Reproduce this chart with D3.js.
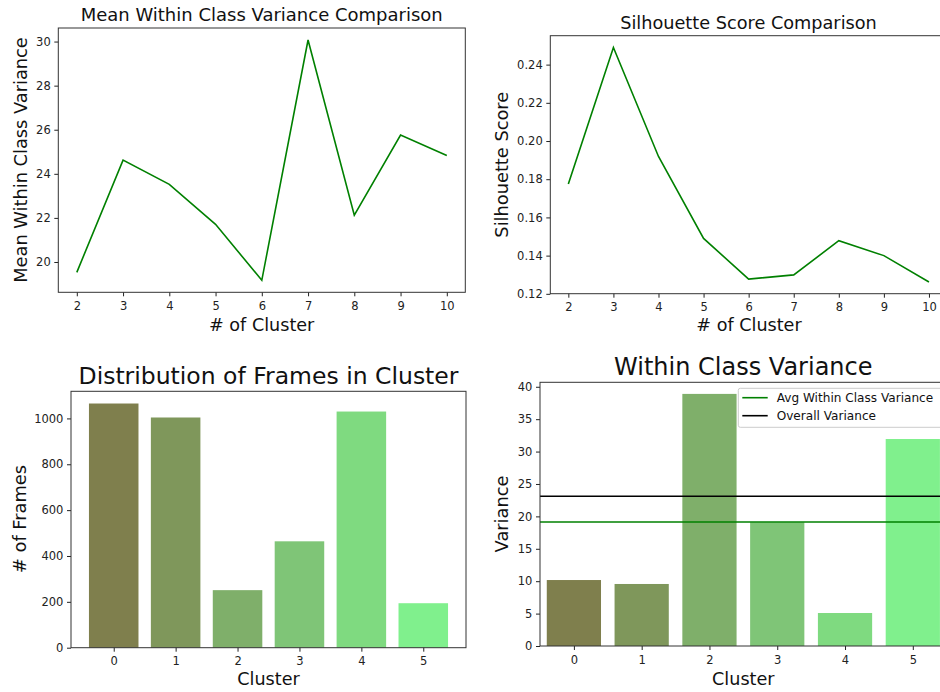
<!DOCTYPE html>
<html>
<head>
<meta charset="utf-8">
<script src="https://cdn.jsdelivr.net/npm/d3@7"></script>
<style>
  html, body { margin: 0; padding: 0; background: #fff; }
  svg { display: block; font-family: "DejaVu Sans", sans-serif; }
</style>
</head>
<body>
<svg id="chart" width="940" height="692"></svg>
<script>
// ---------- data ----------
const clusterCounts = [2, 3, 4, 5, 6, 7, 8, 9, 10];
const meanWithinVariance = [19.53, 24.62, 23.52, 21.71, 19.17, 30.07, 22.12, 25.76, 24.83];
const silhouetteScores = [0.1775, 0.2490, 0.1919, 0.1490, 0.1277, 0.1299, 0.1478, 0.1400, 0.1262];

const clusters = [0, 1, 2, 3, 4, 5];
const framesPerCluster = [1065, 1004, 251, 464, 1030, 194];
const variancePerCluster = [10.18, 9.57, 38.9, 19.09, 5.09, 31.94];
const overallVariance = 23.1;
const barColors = ["#7f7f4d", "#7f975b", "#7faf6a", "#7fc577", "#7fda80", "#80f08d"];

const tickP1Y = [20, 22, 24, 26, 28, 30];
const tickP2Y = [0.12, 0.14, 0.16, 0.18, 0.20, 0.22, 0.24];
const tickP3Y = [0, 200, 400, 600, 800, 1000];
const tickP4Y = [0, 5, 10, 15, 20, 25, 30, 35, 40];

const svg = d3.select("#chart");
svg.append("rect").attr("width", 940).attr("height", 692).attr("fill", "#fff");

const TICK_FONT = 11.5;

function pad(ext, f = 0.05) {
  const d = ext[1] - ext[0];
  return [ext[0] - d * f, ext[1] + d * f];
}

function drawAxes(g, x, y, box, xTicks, yTicks, yFmt) {
  const ax = g.append("g").attr("transform", `translate(0,${box.b})`)
    .call(d3.axisBottom(x).tickValues(xTicks).tickSize(4).tickPadding(5.5).tickFormat(d3.format("d")));
  const ay = g.append("g").attr("transform", `translate(${box.l},0)`)
    .call(d3.axisLeft(y).tickValues(yTicks).tickSize(4).tickPadding(3.6).tickFormat(yFmt));
  [ax, ay].forEach(a => {
    a.select(".domain").remove();
    a.selectAll("text").attr("font-size", TICK_FONT).attr("fill", "#222").attr("font-family", "DejaVu Sans, sans-serif");
    a.selectAll("line").attr("stroke", "#222").attr("stroke-width", 1);
  });
  g.append("rect").attr("x", box.l).attr("y", box.t)
    .attr("width", box.r - box.l).attr("height", box.b - box.t)
    .attr("fill", "none").attr("stroke", "#333").attr("stroke-width", 1);
}

function texts(g, o) {
  g.append("text").attr("x", o.tx).attr("y", o.ty).attr("text-anchor", "middle")
    .attr("font-size", o.tsize).attr("fill", "#111").text(o.title);
  g.append("text").attr("x", o.xx).attr("y", o.xy).attr("text-anchor", "middle")
    .attr("font-size", 17.6).attr("fill", "#111").text(o.xlabel);
  g.append("text").attr("transform", `translate(${o.yx},${o.yy}) rotate(-90)`)
    .attr("text-anchor", "middle").attr("font-size", 17.8).attr("fill", "#111").text(o.ylabel);
}

// ---------- Panel 1 ----------
{
  const box = { l: 58.3, r: 465.3, t: 28, b: 292.3 };
  const g = svg.append("g");
  const x = d3.scaleLinear().domain(pad(d3.extent(clusterCounts))).range([box.l, box.r]);
  const y = d3.scaleLinear().domain(pad(d3.extent(meanWithinVariance))).range([box.b, box.t]);
  const line = d3.line().x((d, i) => x(clusterCounts[i])).y(d => y(d));
  g.append("path").datum(meanWithinVariance).attr("d", line)
    .attr("fill", "none").attr("stroke", "#008000").attr("stroke-width", 1.6);
  drawAxes(g, x, y, box, clusterCounts, tickP1Y, d3.format("d"));
  texts(g, { title: "Mean Within Class Variance Comparison", tx: 261.7, ty: 20.5, tsize: 18,
    xlabel: "# of Cluster", xx: 261.7, xy: 331, ylabel: "Mean Within Class Variance", yx: 26.5, yy: 160 });
}

// ---------- Panel 2 ----------
{
  const box = { l: 550.3, r: 947, t: 35.7, b: 293.7 };
  const g = svg.append("g");
  const x = d3.scaleLinear().domain(pad(d3.extent(clusterCounts))).range([box.l, box.r]);
  const y = d3.scaleLinear().domain(pad(d3.extent(silhouetteScores))).range([box.b, box.t]);
  const line = d3.line().x((d, i) => x(clusterCounts[i])).y(d => y(d));
  g.append("path").datum(silhouetteScores).attr("d", line)
    .attr("fill", "none").attr("stroke", "#008000").attr("stroke-width", 1.6);
  drawAxes(g, x, y, box, clusterCounts, tickP2Y, d3.format(".2f"));
  texts(g, { title: "Silhouette Score Comparison", tx: 748.5, ty: 28.5, tsize: 17.7,
    xlabel: "# of Cluster", xx: 749, xy: 331, ylabel: "Silhouette Score", yx: 508, yy: 164.7 });
}

// ---------- Panel 3 ----------
{
  const box = { l: 71, r: 466, t: 391.3, b: 647.7 };
  const g = svg.append("g");
  const x = d3.scaleLinear().domain(pad([-0.4, 5.4])).range([box.l, box.r]);
  const y = d3.scaleLinear().domain([0, d3.max(framesPerCluster) * 1.05]).range([box.b, box.t]);
  g.selectAll("rect.bar").data(framesPerCluster).join("rect").attr("class", "bar")
    .attr("x", (d, i) => x(clusters[i] - 0.4))
    .attr("width", (d, i) => x(clusters[i] + 0.4) - x(clusters[i] - 0.4))
    .attr("y", d => y(d)).attr("height", d => y(0) - y(d))
    .attr("fill", (d, i) => barColors[i]);
  drawAxes(g, x, y, box, clusters, tickP3Y, d3.format("d"));
  texts(g, { title: "Distribution of Frames in Cluster", tx: 268.5, ty: 384, tsize: 23.5,
    xlabel: "Cluster", xx: 268.5, xy: 685, ylabel: "# of Frames", yx: 25.5, yy: 519 });
}

// ---------- Panel 4 ----------
{
  const box = { l: 540, r: 946.7, t: 382.3, b: 646 };
  const g = svg.append("g");
  const x = d3.scaleLinear().domain([-0.5, 5.5]).range([box.l, box.r]);
  const y = d3.scaleLinear().domain([0, d3.max(variancePerCluster) * 1.046]).range([box.b, box.t]);
  g.selectAll("rect.bar").data(variancePerCluster).join("rect").attr("class", "bar")
    .attr("x", (d, i) => x(clusters[i] - 0.4))
    .attr("width", (d, i) => x(clusters[i] + 0.4) - x(clusters[i] - 0.4))
    .attr("y", d => y(d)).attr("height", d => y(0) - y(d))
    .attr("fill", (d, i) => barColors[i]);
  const avg = d3.mean(variancePerCluster);
  g.append("line").attr("x1", box.l).attr("x2", box.r).attr("y1", y(avg)).attr("y2", y(avg))
    .attr("stroke", "#008000").attr("stroke-width", 1.6);
  g.append("line").attr("x1", box.l).attr("x2", box.r).attr("y1", y(overallVariance)).attr("y2", y(overallVariance))
    .attr("stroke", "#000").attr("stroke-width", 1.6);
  drawAxes(g, x, y, box, clusters, tickP4Y, d3.format("d"));
  texts(g, { title: "Within Class Variance", tx: 743.3, ty: 375, tsize: 24,
    xlabel: "Cluster", xx: 743.3, xy: 685, ylabel: "Variance", yx: 508, yy: 514 });

  // legend
  const lg = g.append("g");
  lg.append("rect").attr("x", 738.3).attr("y", 388.3).attr("width", 215).attr("height", 39)
    .attr("rx", 2).attr("fill", "#fff").attr("fill-opacity", 0.85).attr("stroke", "#ccc");
  const items = [["Avg Within Class Variance", "#008000"], ["Overall Variance", "#000"]];
  items.forEach((it, i) => {
    const yy = 397.7 + i * 18;
    lg.append("line").attr("x1", 742.3).attr("x2", 767.7).attr("y1", yy).attr("y2", yy)
      .attr("stroke", it[1]).attr("stroke-width", 1.6);
    lg.append("text").attr("x", 776.7).attr("y", yy + 4.3).attr("font-size", 12.1)
      .attr("fill", "#111").text(it[0]);
  });
}
</script>
</body>
</html>
